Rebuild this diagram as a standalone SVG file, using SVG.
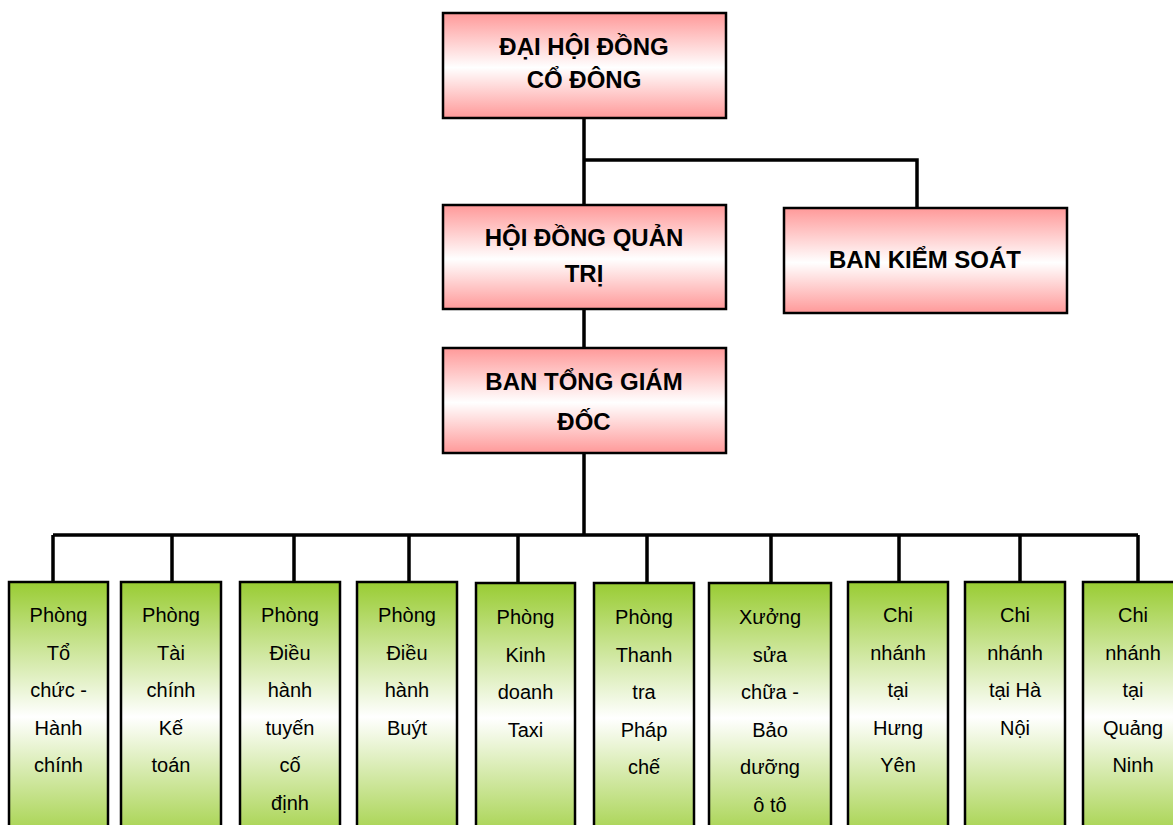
<svg xmlns="http://www.w3.org/2000/svg" width="1173" height="825" viewBox="0 0 1173 825">
<defs>
<linearGradient id="pink" x1="0" y1="0" x2="0" y2="1">
<stop offset="0" stop-color="#FF9999"/>
<stop offset="0.52" stop-color="#FFFFFF"/>
<stop offset="1" stop-color="#FF9999"/>
</linearGradient>
<linearGradient id="green" x1="0" y1="0" x2="0" y2="1">
<stop offset="0" stop-color="#99CC33"/>
<stop offset="0.5" stop-color="#FFFFFF"/>
<stop offset="1" stop-color="#99CC33"/>
</linearGradient>
<style>
.top rect{fill:url(#pink);stroke:#000;stroke-width:2.5}
.bot rect{fill:url(#green);stroke:#000;stroke-width:2.5}
.tt{font-family:"Liberation Sans",Arial,sans-serif;font-weight:bold;font-size:24px;fill:#000;text-anchor:middle}
.bt{font-family:"Liberation Sans",Arial,sans-serif;font-size:20px;fill:#000;text-anchor:middle}
.conn{fill:none;stroke:#000;stroke-width:3.5}
</style>
</defs>
<rect width="1173" height="825" fill="#fff"/>
<g id="connectors" class="conn">
<path d="M584 118V205M584 160H917V208M584 309V348M584 453V535M53 535H1138"/>
<path d="M53 535V582M172 535V582M294 535V582M409 535V582M518 535V583M647 535V583M771 535V583M899 535V582M1020 535V582M1138 535V582"/>
</g>
<g id="dhdcd" class="top"><rect x="443" y="13" width="283" height="105"/>
<text class="tt" x="584"><tspan x="584" y="55">ĐẠI HỘI ĐỒNG</tspan><tspan x="584" y="88">CỔ ĐÔNG</tspan></text></g>
<g id="hdqt" class="top"><rect x="443" y="205" width="283" height="104"/>
<text class="tt" x="584"><tspan x="584" y="246">HỘI ĐỒNG QUẢN</tspan><tspan x="584" y="282">TRỊ</tspan></text></g>
<g id="bks" class="top"><rect x="784" y="208" width="283" height="105"/>
<text class="tt" x="925" y="268">BAN KIỂM SOÁT</text></g>
<g id="btgd" class="top"><rect x="443" y="348" width="283" height="105"/>
<text class="tt" x="584"><tspan x="584" y="390">BAN TỔNG GIÁM</tspan><tspan x="584" y="430">ĐỐC</tspan></text></g>
<g id="b1" class="bot"><rect x="9" y="582" width="99" height="270"/>
<text class="bt"><tspan x="58.5" y="622">Phòng</tspan><tspan x="58.5" y="660">Tổ</tspan><tspan x="58.5" y="697">chức -</tspan><tspan x="58.5" y="735">Hành</tspan><tspan x="58.5" y="772">chính</tspan></text></g>
<g id="b2" class="bot"><rect x="121" y="582" width="100" height="270"/>
<text class="bt"><tspan x="171" y="622">Phòng</tspan><tspan x="171" y="660">Tài</tspan><tspan x="171" y="697">chính</tspan><tspan x="171" y="735">Kế</tspan><tspan x="171" y="772">toán</tspan></text></g>
<g id="b3" class="bot"><rect x="240" y="582" width="100" height="270"/>
<text class="bt"><tspan x="290" y="622">Phòng</tspan><tspan x="290" y="660">Điều</tspan><tspan x="290" y="697">hành</tspan><tspan x="290" y="735">tuyến</tspan><tspan x="290" y="772">cố</tspan><tspan x="290" y="810">định</tspan></text></g>
<g id="b4" class="bot"><rect x="357" y="582" width="100" height="270"/>
<text class="bt"><tspan x="407" y="622">Phòng</tspan><tspan x="407" y="660">Điều</tspan><tspan x="407" y="697">hành</tspan><tspan x="407" y="735">Buýt</tspan></text></g>
<g id="b5" class="bot"><rect x="476" y="583" width="99" height="270"/>
<text class="bt"><tspan x="525.5" y="624">Phòng</tspan><tspan x="525.5" y="662">Kinh</tspan><tspan x="525.5" y="699">doanh</tspan><tspan x="525.5" y="737">Taxi</tspan></text></g>
<g id="b6" class="bot"><rect x="594" y="583" width="100" height="270"/>
<text class="bt"><tspan x="644" y="624">Phòng</tspan><tspan x="644" y="662">Thanh</tspan><tspan x="644" y="699">tra</tspan><tspan x="644" y="737">Pháp</tspan><tspan x="644" y="774">chế</tspan></text></g>
<g id="b7" class="bot"><rect x="709" y="583" width="122" height="270"/>
<text class="bt"><tspan x="770" y="624">Xưởng</tspan><tspan x="770" y="662">sửa</tspan><tspan x="770" y="699">chữa -</tspan><tspan x="770" y="737">Bảo</tspan><tspan x="770" y="774">dưỡng</tspan><tspan x="770" y="812">ô tô</tspan></text></g>
<g id="b8" class="bot"><rect x="848" y="582" width="100" height="270"/>
<text class="bt"><tspan x="898" y="622">Chi</tspan><tspan x="898" y="660">nhánh</tspan><tspan x="898" y="697">tại</tspan><tspan x="898" y="735">Hưng</tspan><tspan x="898" y="772">Yên</tspan></text></g>
<g id="b9" class="bot"><rect x="965" y="582" width="100" height="270"/>
<text class="bt"><tspan x="1015" y="622">Chi</tspan><tspan x="1015" y="660">nhánh</tspan><tspan x="1015" y="697">tại Hà</tspan><tspan x="1015" y="735">Nội</tspan></text></g>
<g id="b10" class="bot"><rect x="1083" y="582" width="100" height="270"/>
<text class="bt"><tspan x="1133" y="622">Chi</tspan><tspan x="1133" y="660">nhánh</tspan><tspan x="1133" y="697">tại</tspan><tspan x="1133" y="735">Quảng</tspan><tspan x="1133" y="772">Ninh</tspan></text></g>
</svg>
